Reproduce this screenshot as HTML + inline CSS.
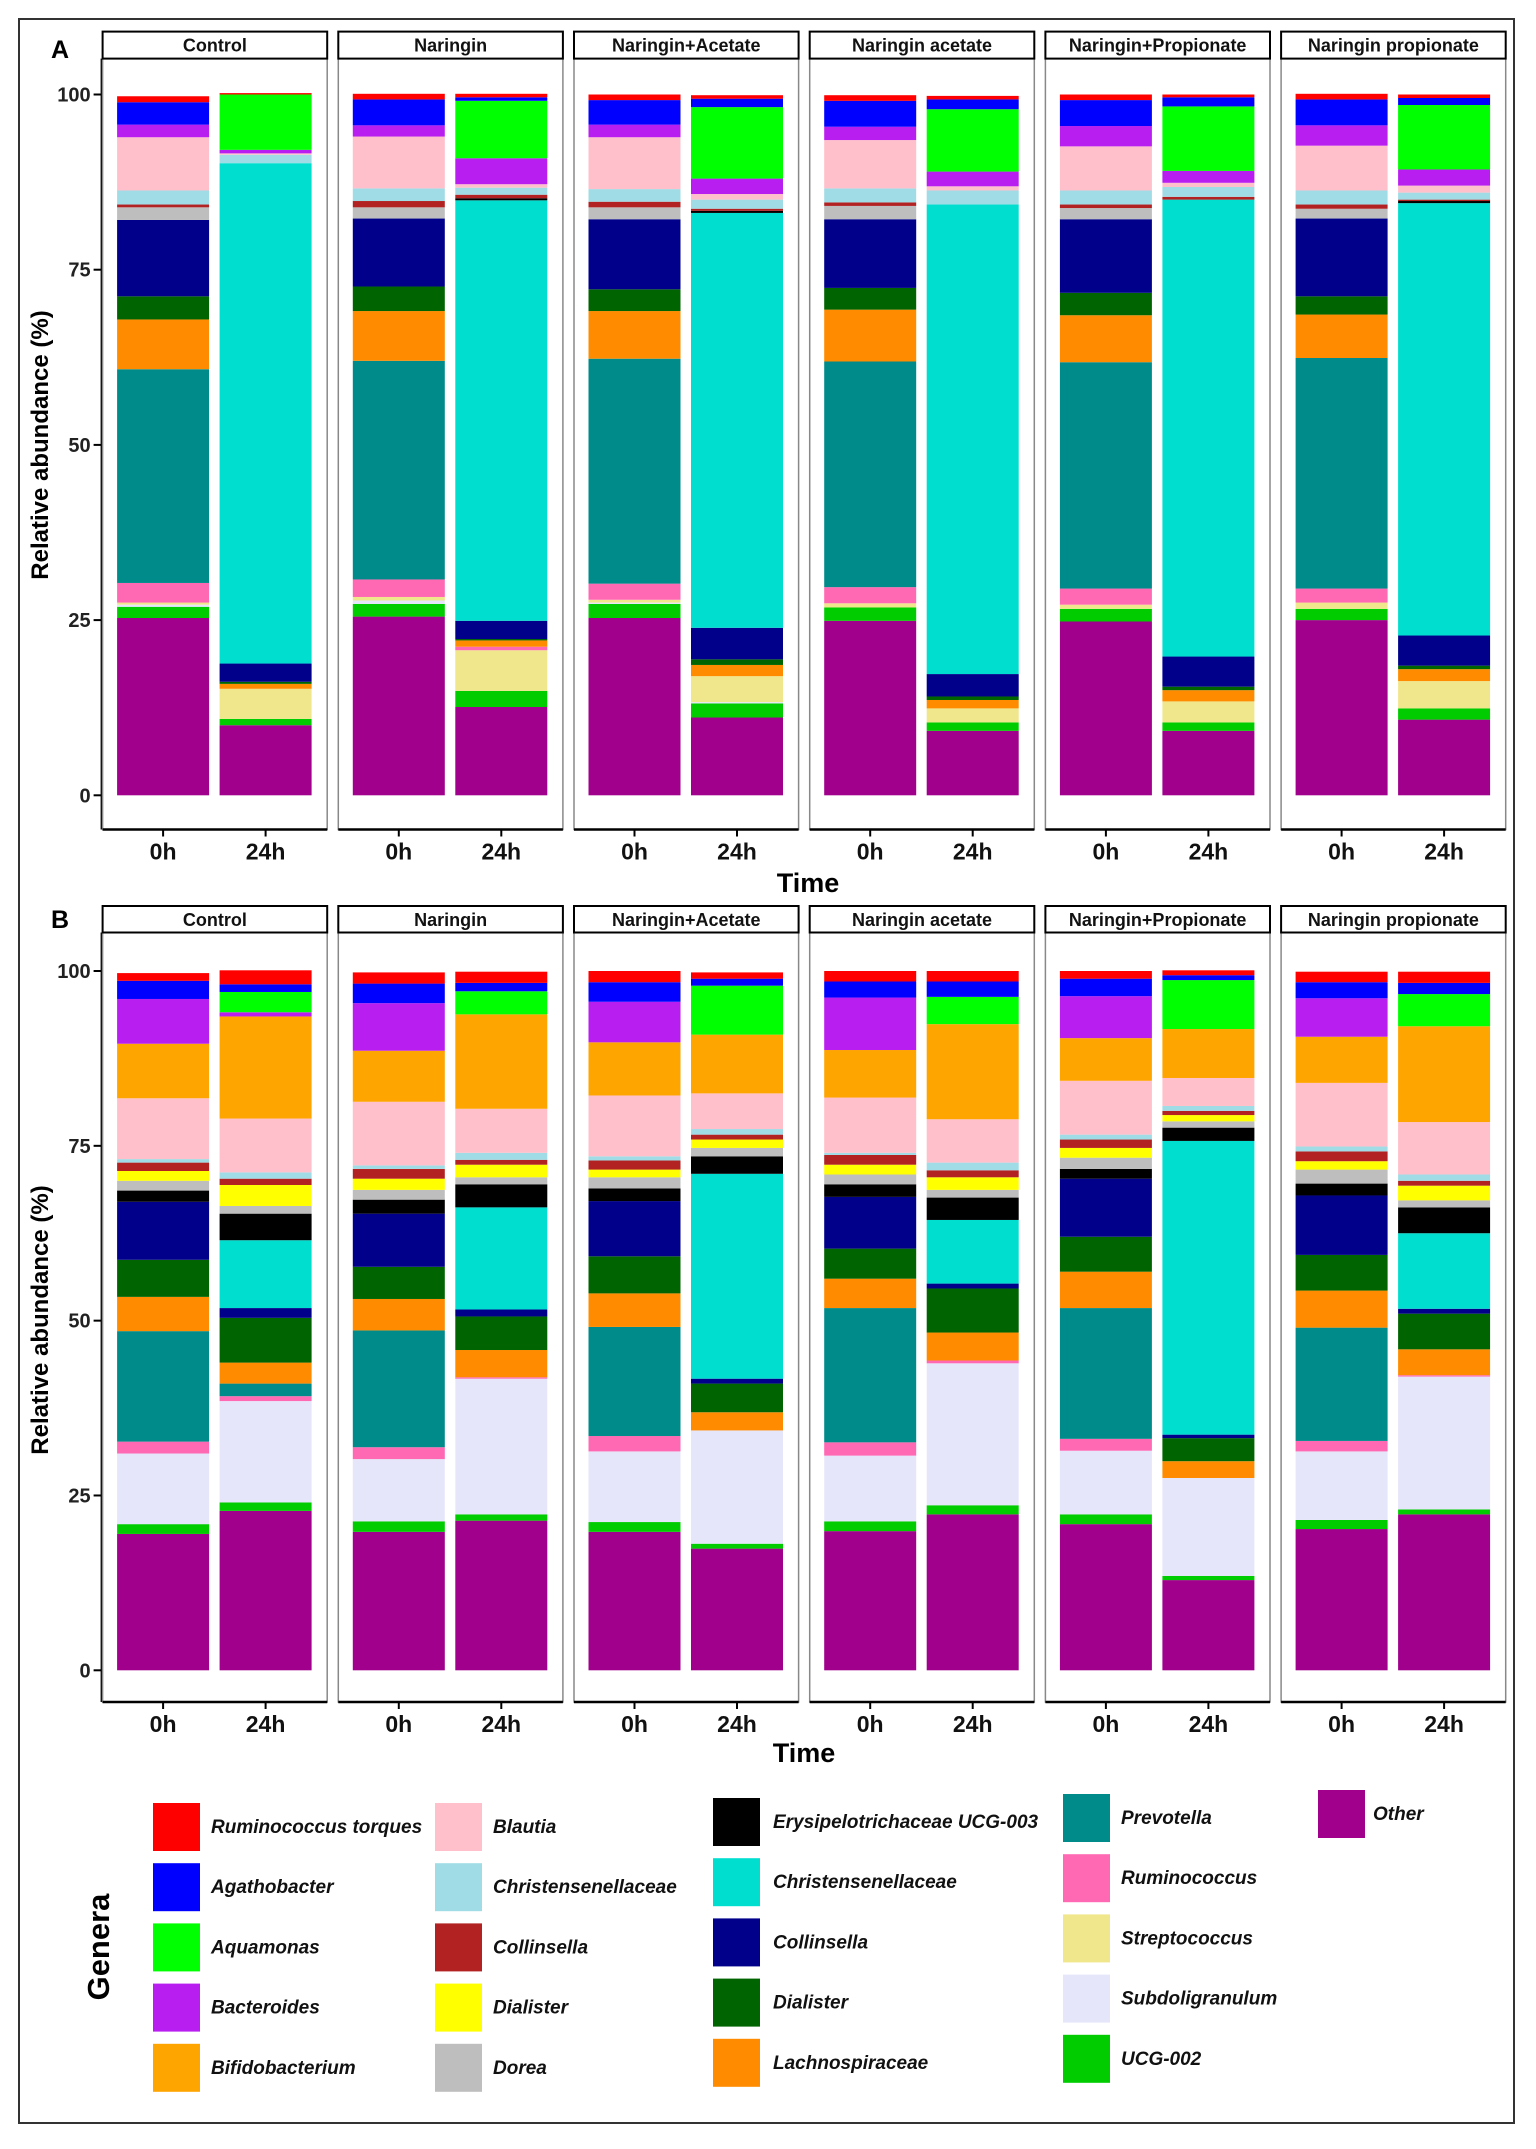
<!DOCTYPE html>
<html><head><meta charset="utf-8"><title>Relative abundance of genera</title>
<style>
html,body{margin:0;padding:0;background:#fff;}
svg{display:block;}
text{font-family:"Liberation Sans",sans-serif;}
</style></head>
<body>
<svg id="chart" width="1536" height="2149" viewBox="0 0 1536 2149" xmlns="http://www.w3.org/2000/svg">
<rect x="19" y="19" width="1495" height="2104" fill="#fff" stroke="#333" stroke-width="2"/>
<text x="51" y="58" font-size="25" font-weight="bold">A</text>
<text x="51" y="928" font-size="25" font-weight="bold">B</text>
<text transform="translate(48,445) rotate(-90)" text-anchor="middle" font-size="24" font-weight="bold">Relative abundance (%)</text>
<text transform="translate(48,1320) rotate(-90)" text-anchor="middle" font-size="24" font-weight="bold">Relative abundance (%)</text>
<text x="808" y="892" text-anchor="middle" font-size="27" font-weight="bold">Time</text>
<text x="804" y="1762" text-anchor="middle" font-size="27" font-weight="bold">Time</text>
<text transform="translate(109,1947) rotate(-90)" text-anchor="middle" font-size="31" font-weight="bold">Genera</text>
<g id="plots"></g>
<g id="legend"></g>
</svg>
<script>
const genera = ["Ruminococcus torques","Agathobacter","Aquamonas","Bacteroides","Bifidobacterium","Blautia","Christensenellaceae","Collinsella","Dialister","Dorea","Erysipelotrichaceae UCG-003","Christensenellaceae","Collinsella","Dialister","Lachnospiraceae","Prevotella","Ruminococcus","Streptococcus","Subdoligranulum","UCG-002","Other"];
const colors = ["#FF0000","#0000FF","#00FF00","#B91EF0","#FFA500","#FFC0CB","#A0DCE6","#B22222","#FFFF00","#BEBEBE","#000000","#00DED0","#00008B","#006400","#FF8C00","#008B8B","#FF69B4","#F0E68C","#E6E6FA","#00CC00","#A0008B"];
const treatments = ["Control","Naringin","Naringin+Acetate","Naringin acetate","Naringin+Propionate","Naringin propionate"];
const timeLabels = ["0h","24h"];
const yTicks = [0,25,50,75,100];
// Panel A: values per treatment, in legend order
const panelA0h = [
 [0.85,3.2,0,1.8,0,7.6,2.0,0.4,0,1.8,0,0,10.9,3.3,7.1,30.5,2.8,0.3,0.3,1.6,25.3],
 [0.8,3.7,0,1.6,0,7.4,1.8,0.9,0,1.6,0,0,9.7,3.5,7.1,31.2,2.5,0.5,0.5,1.8,25.5],
 [0.8,3.5,0,1.8,0,7.4,1.8,0.8,0,1.7,0,0,10.0,3.1,6.8,32.1,2.3,0.4,0.2,2.0,25.3],
 [0.8,3.7,0,1.9,0,6.9,2.0,0.5,0,1.9,0,0,9.8,3.1,7.4,32.2,2.3,0.6,0,1.9,24.9],
 [0.8,3.7,0,2.9,0,6.3,2.0,0.5,0,1.6,0,0,10.5,3.2,6.7,32.3,2.3,0.6,0,1.8,24.8],
 [0.8,3.7,0,2.9,0,6.4,2.0,0.6,0,1.4,0,0,11.1,2.6,6.2,32.9,2.0,0.9,0,1.6,25.0]
];
const panelA24h = [
 [0.2,0,7.9,0.5,0,0.2,1.2,0,0,0,0,71.4,2.6,0.3,0.7,0,0,4.3,0,0.9,10.0],
 [0.5,0.5,8.2,3.7,0,0.5,1.0,0.5,0,0,0.3,60.0,2.6,0.2,0.9,0,0.5,5.8,0,2.3,12.6],
 [0.5,1.2,10.2,2.2,0,0.8,1.3,0.3,0,0,0.3,59.2,4.5,0.8,1.6,0,0,3.7,0.2,2.0,11.1],
 [0.5,1.4,8.9,2.1,0,0.6,2.0,0,0,0,0,67.0,3.2,0.5,1.2,0,0,2.0,0,1.2,9.2],
 [0.4,1.3,9.2,1.7,0,0.6,1.4,0.4,0,0,0,65.2,4.3,0.5,1.6,0,0,3.0,0,1.2,9.2],
 [0.5,1.0,9.2,2.3,0,1.0,1.0,0.2,0,0,0.3,61.7,4.3,0.5,1.7,0,0,3.9,0,1.6,10.8]
];
// Panel B
const panelB0h = [
 [1.1,2.6,0,6.4,7.8,8.7,0.5,1.2,1.4,1.4,1.6,0,8.3,5.3,4.9,15.8,1.7,0,10.1,1.4,19.5],
 [1.6,2.8,0,6.8,7.3,9.1,0.5,1.4,1.6,1.4,2.0,0,7.6,4.6,4.5,16.7,1.7,0,8.9,1.5,19.8],
 [1.6,2.8,0,5.8,7.6,8.7,0.6,1.3,1.1,1.6,1.8,0,7.9,5.3,4.8,15.6,2.2,0,10.1,1.4,19.8],
 [1.5,2.3,0,7.5,6.8,7.9,0.3,1.4,1.4,1.4,1.8,0,7.4,4.3,4.2,19.2,1.9,0,9.4,1.4,19.9],
 [1.1,2.5,0,6.0,6.1,7.7,0.7,1.2,1.4,1.6,1.4,0,8.3,5.0,5.2,18.7,1.7,0,9.1,1.4,20.9],
 [1.5,2.3,0,5.5,6.6,9.1,0.7,1.4,1.2,2.0,1.7,0,8.5,5.1,5.3,16.2,1.5,0,9.8,1.3,20.2]
];
const panelB24h = [
 [2.0,1.1,2.9,0.6,14.6,7.7,0.9,0.9,3.0,1.1,3.8,9.7,1.4,6.4,3.0,1.8,0.7,0,14.5,1.2,22.8],
 [1.6,1.2,3.3,0,13.5,6.3,1.0,0.7,1.8,1.0,3.3,14.6,1.0,4.8,3.9,0,0.2,0,19.4,0.9,21.4],
 [0.9,1.0,7.0,0,8.4,5.1,0.8,0.7,1.2,1.2,2.5,29.3,0.7,4.1,2.6,0,0,0,16.2,0.7,17.4],
 [1.5,2.2,3.9,0,13.6,6.2,1.1,1.0,1.8,1.1,3.2,9.1,0.7,6.3,4.0,0,0.4,0,20.3,1.3,22.3],
 [0.7,0.7,7.0,0,7.0,4.0,0.7,0.6,0.9,0.9,1.9,42.0,0.5,3.3,2.4,0,0,0,14.0,0.6,12.9],
 [1.6,1.6,4.6,0,13.7,7.5,0.9,0.7,2.1,1.0,3.7,10.8,0.7,5.1,3.7,0,0.2,0,19.0,0.7,22.3]
];

const NS = "http://www.w3.org/2000/svg";
function mk(tag, attrs, parent){
  const e = document.createElementNS(NS, tag);
  for (const k in attrs) e.setAttribute(k, attrs[k]);
  parent.appendChild(e);
  return e;
}
const plots = document.getElementById("plots");
const panelX0 = 102.6, panelW = 224.6, panelStep = 235.7;
const barOffsets = [14.5, 117], barW = 92;

function drawPanel(cfg){
  const yScale = v => cfg.y0 - (v/100)*(cfg.y0 - cfg.y100);
  // y axis
  const yaxis = mk("line",{x1:panelX0-1,x2:panelX0-1,y1:cfg.bodyTop,y2:cfg.bodyBottom,stroke:"#000","stroke-width":2},plots);
  
  
  yTicks.forEach(t=>{
    const y = yScale(t);
    const tk = mk("line",{x1:panelX0-9,x2:panelX0-1,y1:y,y2:y,stroke:"#000","stroke-width":2},plots);
    
    
    const tl = mk("text",{x:panelX0-12,y:y+7,"text-anchor":"end","font-size":20,"font-weight":"bold",fill:"#222"},plots);
    tl.textContent = t;
    
    
  });
  treatments.forEach((name,i)=>{
    const px = panelX0 + i*panelStep;
    const g = mk("g",{},plots);
    
    
    const border = mk("rect",{x:px,y:cfg.bodyTop,width:panelW,height:cfg.bodyBottom-cfg.bodyTop,fill:"#fff",stroke:"#888","stroke-width":1.5},g);
    
    
    const strip = mk("rect",{x:px,y:cfg.stripTop,width:panelW,height:cfg.bodyTop-cfg.stripTop,fill:"#fff",stroke:"#000","stroke-width":2},g);
    
    
    const st = mk("text",{x:px+panelW/2,y:cfg.stripTop+(cfg.bodyTop-cfg.stripTop)/2+6.5,"text-anchor":"middle","font-size":18,"font-weight":"bold",fill:"#111"},g);
    st.textContent = name;
    
    
    [cfg.v0[i], cfg.v24[i]].forEach((vals,ti)=>{
      const bx = px + barOffsets[ti];
      let cum = 0;
      for (let k = vals.length-1; k>=0; k--){
        const v = vals[k];
        if (v<=0) continue;
        const yTop = yScale(cum+v), yBot = yScale(cum);
        const r = mk("rect",{x:bx,y:yTop,width:barW,height:Math.max(0,yBot-yTop),fill:colors[k]},g);
        
        
        cum += v;
      }
      const cx = bx + barW/2;
      const tk = mk("line",{x1:cx,x2:cx,y1:cfg.bodyBottom,y2:cfg.bodyBottom+7,stroke:"#000","stroke-width":2},g);
      
      
      const tl = mk("text",{x:cx,y:cfg.bodyBottom+30,"text-anchor":"middle","font-size":23,"font-weight":"bold",fill:"#111"},g);
      tl.textContent = timeLabels[ti];
      
      
    });
    const ax = mk("line",{x1:px,x2:px+panelW,y1:cfg.bodyBottom,y2:cfg.bodyBottom,stroke:"#000","stroke-width":2.5},g);
    
    
  });
}
drawPanel({id:"panel-a",stripTop:31.6,bodyTop:58.6,bodyBottom:829.5,y100:94.5,y0:795.3,v0:panelA0h,v24:panelA24h});
drawPanel({id:"panel-b",stripTop:906,bodyTop:932.5,bodyBottom:1702,y100:971,y0:1670.3,v0:panelB0h,v24:panelB24h});

// Legend
const legend = document.getElementById("legend");
const legCols = [
  {sx:153, tx:211, y0:1803, items:[0,1,2,3,4]},
  {sx:435, tx:493, y0:1803, items:[5,6,7,8,9]},
  {sx:713, tx:773, y0:1798, items:[10,11,12,13,14]},
  {sx:1063, tx:1121, y0:1794, items:[15,16,17,18,19]},
  {sx:1318, tx:1373, y0:1790, items:[20]}
];
legCols.forEach(col=>{
  col.items.forEach((k,j)=>{
    const y = col.y0 + j*60.2;
    const g = mk("g",{},legend);
    
    
    const sw = mk("rect",{x:col.sx,y:y,width:47,height:48,fill:colors[k]},g);
    
    
    const t = mk("text",{x:col.tx,y:y+30,"font-size":19,"font-weight":"bold","font-style":"italic",fill:"#111"},g);
    t.textContent = genera[k];
    
    
  });
});
</script>
</body></html>
